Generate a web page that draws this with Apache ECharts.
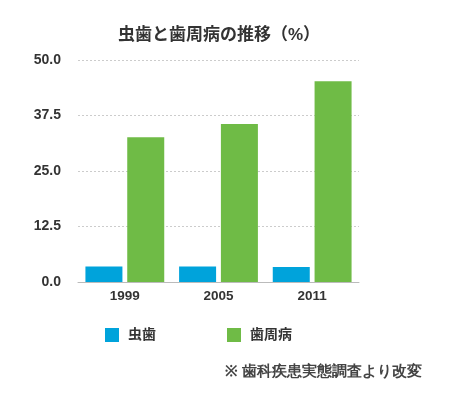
<!DOCTYPE html>
<html><head><meta charset="utf-8">
<script src="https://cdn.jsdelivr.net/npm/echarts@6/dist/echarts.min.js"></script>
<style>html,body{margin:0;padding:0;background:#fff}#c{width:450px;height:394px}</style>
</head><body><div id="c"></div>
<script>
const categories = ['1999', '2005', '2011'];
const cariesValues = [3.5, 3.5, 3.4];
const periodontalValues = [32.6, 35.6, 45.2];
const yTicks = ['0.0', '12.5', '25.0', '37.5', '50.0'];
const seriesNames = ['虫歯', '歯周病'];

const font = '"Helvetica Neue", Arial, "Noto Sans CJK JP", sans-serif';
const chart = echarts.init(document.getElementById('c'), null, {renderer: 'canvas'});
chart.setOption({
  animation: false,
  textStyle: {fontFamily: font},
  title: {
    text: '虫歯と歯周病の推移（%）',
    left: 214, top: 22, textAlign: 'center',
    textStyle: {fontSize: 17, fontWeight: 'bold', color: '#333', fontFamily: font}
  },
  legend: {
    data: seriesNames,
    left: 100, top: 323, padding: 5,
    itemWidth: 14, itemHeight: 14, itemGap: 71,
    icon: 'rect',
    textStyle: {fontSize: 14, fontWeight: 'bold', color: '#333', padding: [0, 0, 0, 4], fontFamily: font}
  },
  graphic: [{
    type: 'text', left: 225, top: 364,
    style: {text: '※ 歯科疾患実態調査より改変', fontSize: 15, fontWeight: 'bold', fill: '#444', font: 'bold 15px ' + font}
  }],
  grid: {left: 78, right: 91, top: 60, bottom: 112},
  xAxis: {
    type: 'category', data: categories,
    axisLine: {lineStyle: {color: '#bbb'}},
    axisTick: {show: false},
    axisLabel: {fontSize: 13.5, fontWeight: 'bold', color: '#333', margin: 8}
  },
  yAxis: {
    type: 'value', min: 0, max: 50, interval: 12.5,
    axisLine: {show: false}, axisTick: {show: false},
    splitLine: {lineStyle: {color: '#ccc', type: [2, 2]}},
    axisLabel: {fontSize: 14, fontWeight: 'bold', color: '#333', margin: 17,
      formatter: (v) => yTicks[Math.round(v / 12.5)]}
  },
  series: [
    {name: seriesNames[0], type: 'bar', data: cariesValues, barWidth: 37, barGap: '13%',
     itemStyle: {color: '#00a3db'}},
    {name: seriesNames[1], type: 'bar', data: periodontalValues, barWidth: 37,
     itemStyle: {color: '#6fbb46'}}
  ]
});
</script></body></html>
